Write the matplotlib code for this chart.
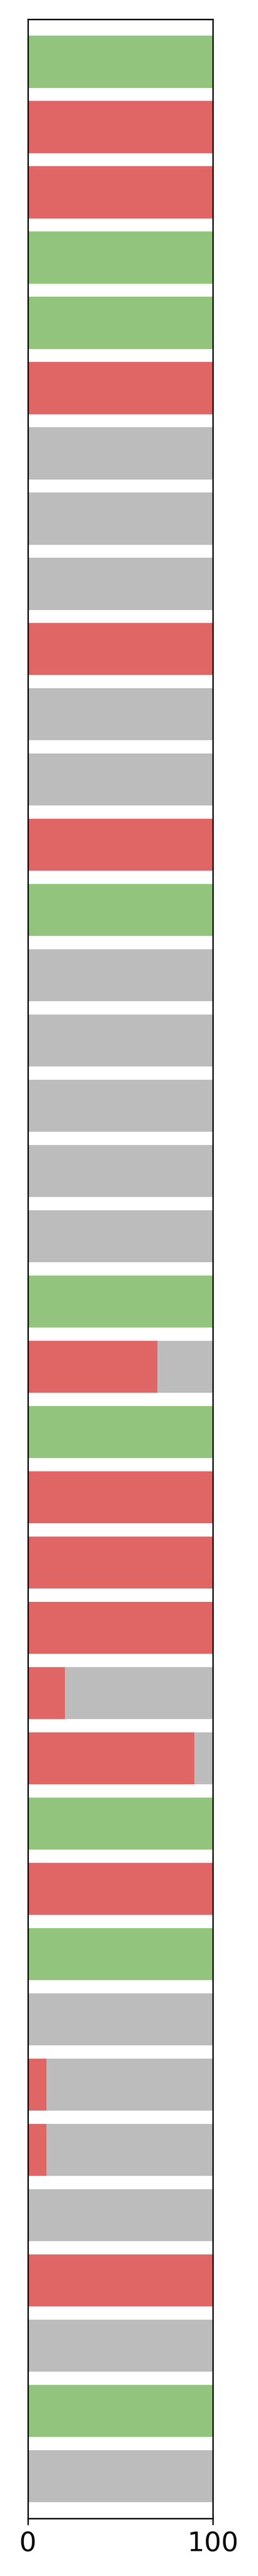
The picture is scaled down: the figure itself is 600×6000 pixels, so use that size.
import matplotlib
matplotlib.use("Agg")
import matplotlib.pyplot as plt
import numpy as np

# valores (de arriba hacia abajo)
verde = [100, 0, 0, 100, 100, 0, 0, 0, 0, 0, 0, 0, 0, 100, 0, 0, 0, 0, 0,
         100, 0, 100, 0, 0, 0, 0, 0, 100, 0, 100, 0, 0, 0, 0, 0, 0, 100, 0]
rojo = [0, 100, 100, 0, 0, 100, 0, 0, 0, 100, 0, 0, 100, 0, 0, 0, 0, 0, 0,
        0, 70, 0, 100, 100, 100, 20, 90, 0, 100, 0, 0, 10, 10, 0, 100, 0, 0, 0]
gris = [0, 0, 0, 0, 0, 0, 100, 100, 100, 0, 100, 100, 0, 0, 100, 100, 100, 100, 100,
        0, 30, 0, 0, 0, 0, 80, 10, 0, 0, 0, 100, 90, 90, 100, 0, 100, 0, 100]

y = np.arange(len(verde))
verde = np.array(verde)
rojo = np.array(rojo)
gris = np.array(gris)

fig = plt.figure(figsize=(2, 20), dpi=300)
ax = fig.add_axes([0.1083, 0.0223, 0.7167, 0.9702])  # posicion medida en la referencia

ax.barh(y, verde, height=0.8, color="#93c47d")
ax.barh(y, rojo, left=verde, height=0.8, color="#e06666")
ax.barh(y, gris, left=verde + rojo, height=0.8, color="#bcbcbc")

ax.set_xlim(0, 100)
ax.set_ylim(len(y) - 1 + 0.65, -0.65)
ax.set_xticks([0, 100])
ax.set_yticks([])
ax.tick_params(axis="x", labelsize=15)

fig.savefig("out.png", dpi=300)
